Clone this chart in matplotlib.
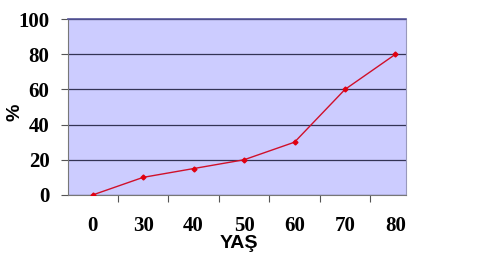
import numpy as np
import matplotlib
matplotlib.use('Agg')
import matplotlib.pyplot as plt

ages = ['0', '30', '40', '50', '60', '70', '80']
percent = [0, 10, 15, 20, 30, 60, 80]
yticks = [0, 20, 40, 60, 80, 100]

fig = plt.figure(figsize=(5, 2.62), dpi=100)
ax = fig.add_axes([0.135, 0.256, 0.677, 0.671])
ax.set_facecolor('#CCCCFF')

x = np.arange(len(ages))
ax.plot(x, percent, color='#D0102A', lw=1, marker='D', ms=2.5, mec='#E00010', mfc='#E00010', zorder=3)

ax.set_ylim(0, 100)
ax.set_xlim(-0.5, 6.21)
ax.set_yticks(yticks)
ax.yaxis.grid(True, color='#333355', lw=0.9)
ax.set_axisbelow(True)

tickfont = dict(family='Liberation Serif', weight='bold', size=15)
ax.set_yticklabels([str(t) for t in yticks], **tickfont)
ax.tick_params(axis='y', length=5, color='#555555', pad=8)

ax.set_xticks(np.arange(0.5, 6, 1))
ax.set_xticklabels([])
ax.tick_params(axis='x', which='major', length=5, color='#555555')
ax.set_xticks(x, minor=True)
ax.set_xticklabels(ages, minor=True, **tickfont)
ax.tick_params(axis='x', which='minor', length=0, pad=15)

for s in ['left', 'bottom']:
    ax.spines[s].set_color('#777777')
ax.spines['top'].set_color('#555599')
ax.spines['right'].set_color('#9999BB')
ax.spines['top'].set_linewidth(1.2)

fig.text(0.478, 0.052, 'YAŞ', ha='center', va='baseline', family='Liberation Sans', weight='bold', fontsize=14)
fig.text(0.03, 0.57, '%', ha='center', va='center', rotation=90, family='Liberation Sans', weight='bold', fontsize=14)

fig.savefig('out.png', dpi=100)
